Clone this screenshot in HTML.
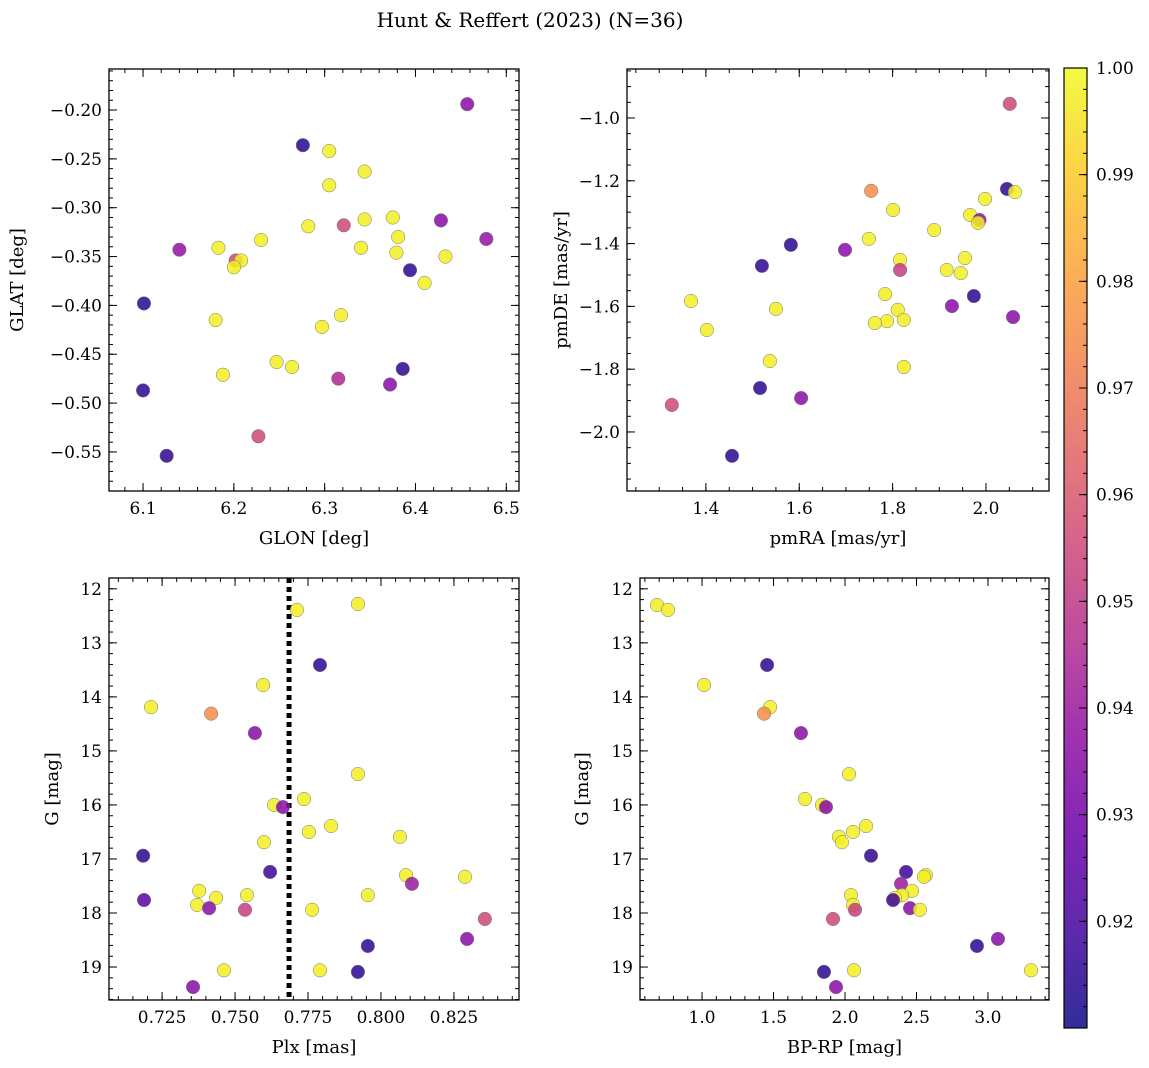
<!DOCTYPE html>
<html><head><meta charset="utf-8"><style>
body{margin:0;background:#fff;}
svg{display:block;font-family:"DejaVu Serif","Liberation Serif",serif;}
</style></head>
<body>
<svg id="fig" width="1149" height="1068" viewBox="0 0 1149 1068" xmlns="http://www.w3.org/2000/svg">
<defs><linearGradient id="cbgrad" x1="0" y1="1" x2="0" y2="0">
<stop offset="0" stop-color="#0d0887"/><stop offset="0.1" stop-color="#41049d"/><stop offset="0.2" stop-color="#6a00a8"/><stop offset="0.3" stop-color="#8f0da4"/><stop offset="0.4" stop-color="#b12a90"/><stop offset="0.5" stop-color="#cc4778"/><stop offset="0.6" stop-color="#e16462"/><stop offset="0.7" stop-color="#f2844b"/><stop offset="0.8" stop-color="#fca636"/><stop offset="0.9" stop-color="#fcce25"/><stop offset="1" stop-color="#f0f921"/></linearGradient></defs>
<text x="530" y="27" font-size="20" text-anchor="middle">Hunt &amp; Reffert (2023) (N=36)</text>
</svg>
<script>
// ---- data ----
const prob = [0.935,0.915,0.998,0.998,0.998,0.998,0.998,0.998,0.955,0.935,0.998,0.938,0.998,0.938,0.998,0.955,0.998,0.998,0.998,0.998,0.998,0.915,0.998,0.915,0.998,0.998,0.998,0.998,0.998,0.998,0.915,0.945,0.935,0.915,0.955,0.915];
const glon = [6.457,6.276,6.305,6.344,6.305,6.375,6.282,6.344,6.321,6.428,6.381,6.478,6.230,6.140,6.183,6.202,6.208,6.200,6.340,6.379,6.433,6.394,6.410,6.101,6.318,6.180,6.297,6.247,6.264,6.188,6.386,6.315,6.372,6.100,6.227,6.126];
const glat = [-0.194,-0.236,-0.242,-0.263,-0.277,-0.310,-0.319,-0.312,-0.318,-0.313,-0.330,-0.332,-0.333,-0.343,-0.341,-0.354,-0.354,-0.361,-0.341,-0.346,-0.350,-0.364,-0.377,-0.398,-0.410,-0.415,-0.422,-0.458,-0.463,-0.471,-0.465,-0.475,-0.481,-0.487,-0.534,-0.554];
const probPM = [0.955,0.915,0.998,0.975,0.998,0.998,0.998,0.935,0.998,0.998,0.998,0.915,0.935,0.998,0.998,0.915,0.998,0.998,0.952,0.915,0.998,0.998,0.935,0.998,0.998,0.935,0.998,0.998,0.998,0.998,0.998,0.998,0.915,0.935,0.955,0.915];
const pmra = [2.051,2.045,2.062,1.754,1.998,1.801,1.966,1.986,1.983,1.889,1.749,1.582,1.698,1.816,1.955,1.520,1.916,1.946,1.816,1.974,1.784,1.368,1.927,1.811,1.550,2.058,1.824,1.788,1.762,1.402,1.537,1.824,1.516,1.604,1.327,1.456];
const pmde = [-0.955,-1.226,-1.236,-1.232,-1.258,-1.293,-1.309,-1.325,-1.334,-1.357,-1.385,-1.404,-1.420,-1.452,-1.446,-1.471,-1.484,-1.494,-1.484,-1.567,-1.561,-1.583,-1.599,-1.611,-1.608,-1.634,-1.643,-1.647,-1.653,-1.675,-1.774,-1.793,-1.860,-1.892,-1.914,-2.076];
const probCMD = [0.998,0.998,0.915,0.998,0.998,0.975,0.935,0.998,0.998,0.998,0.935,0.998,0.998,0.998,0.998,0.915,0.918,0.998,0.998,0.940,0.998,0.998,0.998,0.998,0.925,0.998,0.935,0.952,0.998,0.955,0.935,0.915,0.998,0.998,0.915,0.935];
const plx = [0.7712,0.7921,0.7791,0.7596,0.7212,0.7418,0.7568,0.7921,0.7736,0.7634,0.7664,0.7829,0.7753,0.8065,0.7599,0.7185,0.7620,0.8086,0.8288,0.8106,0.7377,0.7541,0.7955,0.7435,0.7188,0.7370,0.7411,0.7534,0.7764,0.8356,0.8295,0.7955,0.7462,0.7791,0.7921,0.7356];
const gmag = [12.39,12.28,13.41,13.78,14.19,14.31,14.67,15.43,15.89,16.00,16.04,16.39,16.50,16.59,16.69,16.94,17.24,17.30,17.33,17.46,17.59,17.67,17.67,17.72,17.76,17.85,17.91,17.94,17.94,18.11,18.48,18.61,19.06,19.06,19.09,19.37];
const probBR = [0.998,0.998,0.915,0.998,0.998,0.975,0.935,0.998,0.998,0.998,0.935,0.998,0.998,0.998,0.998,0.915,0.918,0.998,0.998,0.940,0.998,0.998,0.998,0.998,0.918,0.998,0.935,0.952,0.998,0.955,0.935,0.915,0.998,0.998,0.915,0.935];
const gmagBR = [12.30,12.39,13.41,13.78,14.19,14.31,14.67,15.43,15.89,16.00,16.04,16.39,16.50,16.59,16.69,16.94,17.24,17.30,17.33,17.46,17.59,17.67,17.67,17.72,17.76,17.85,17.91,17.94,17.94,18.11,18.48,18.61,19.06,19.06,19.09,19.37];
const bprp = [0.685,0.762,1.455,1.014,1.476,1.434,1.692,2.028,1.720,1.839,1.867,2.147,2.056,1.958,1.979,2.182,2.427,2.566,2.552,2.392,2.469,2.042,2.399,2.350,2.336,2.056,2.455,2.070,2.524,1.916,3.070,2.923,3.301,2.063,1.853,1.937];
const plxLine = 0.7685;
const glonTicks = [6.1,6.2,6.3,6.4,6.5];
const glatTicks = [-0.20,-0.25,-0.30,-0.35,-0.40,-0.45,-0.50,-0.55];
const pmraTicks = [1.4,1.6,1.8,2.0];
const pmdeTicks = [-1.0,-1.2,-1.4,-1.6,-1.8,-2.0];
const plxTicks = [0.725,0.750,0.775,0.800,0.825];
const gTicks = [12,13,14,15,16,17,18,19];
const bprpTicks = [1.0,1.5,2.0,2.5,3.0];
const cbTicks = [0.92,0.93,0.94,0.95,0.96,0.97,0.98,0.99,1.00];
const vmin = 0.9100, vmax = 1.0;

const NS = "http://www.w3.org/2000/svg";
const svg = document.getElementById('fig');
function el(tag, attrs, parent){const e=document.createElementNS(NS,tag);for(const k in attrs)e.setAttribute(k,attrs[k]);(parent||svg).appendChild(e);return e;}
const stops=[[0,[13,8,135]],[0.1,[65,4,157]],[0.2,[106,0,168]],[0.3,[143,13,164]],[0.4,[177,42,144]],[0.5,[204,71,120]],[0.6,[225,100,98]],[0.7,[242,132,75]],[0.8,[252,166,54]],[0.9,[252,206,37]],[1,[240,249,33]]];
function cmap(v){let t=Math.max(0,Math.min(1,(v-vmin)/(vmax-vmin)));for(let i=1;i<stops.length;i++){if(t<=stops[i][0]){const a=stops[i-1],b=stops[i];const f=(t-a[0])/(b[0]-a[0]);const c=a[1].map((x,j)=>Math.round(x+(b[1][j]-x)*f));return `rgb(${c})`;}}return 'rgb(240,249,33)';}

function panel(o){
  const {name,x0,x1,y0,y1,xmin,xmax,ymin,ymax,xt,yt,xminor,yminor,xfmt,yfmt,xlabel,ylabel,xs,ys,cs}=o;
  const g=el('g',{});
  
  
  const sx=v=>x0+(v-xmin)/(xmax-xmin)*(x1-x0);
  const sy=v=>y1-(v-ymin)/(ymax-ymin)*(y1-y0);
  // minor ticks
  const tk=el('g',{stroke:'#000','stroke-width':1},g);
  
  
  let s=Math.ceil(Math.min(xmin,xmax)/xminor-1e-6);
  for(let v=s*xminor;v<=Math.max(xmin,xmax)+1e-9;v+=xminor){const X=sx(v);el('line',{x1:X,x2:X,y1:y1,y2:y1-4},tk);el('line',{x1:X,x2:X,y1:y0,y2:y0+4},tk);}
  s=Math.ceil(Math.min(ymin,ymax)/yminor-1e-6);
  for(let v=s*yminor;v<=Math.max(ymin,ymax)+1e-9;v+=yminor){const Y=sy(v);el('line',{x1:x0,x2:x0+4,y1:Y,y2:Y},tk);el('line',{x1:x1,x2:x1-4,y1:Y,y2:Y},tk);}
  xt.forEach(v=>{const X=sx(v);el('line',{x1:X,x2:X,y1:y1,y2:y1-8},tk);el('line',{x1:X,x2:X,y1:y0,y2:y0+8},tk);
    const t=el('text',{x:X,y:y1+23,'font-size':17,'text-anchor':'middle'},g);t.textContent=xfmt(v);
    
    });
  yt.forEach(v=>{const Y=sy(v);el('line',{x1:x0,x2:x0+8,y1:Y,y2:Y},tk);el('line',{x1:x1,x2:x1-8,y1:Y,y2:Y},tk);
    const t=el('text',{x:x0-7,y:Y+6,'font-size':17,'text-anchor':'end'},g);t.textContent=yfmt(v);
    
    });
  if(o.vline!==undefined){const l=el('line',{x1:sx(o.vline),x2:sx(o.vline),y1:y0,y2:y1,stroke:'#000','stroke-width':5,'stroke-dasharray':'5,4'},g);
    
    }
  xs.forEach((v,i)=>{const c=el('circle',{cx:sx(v),cy:sy(ys[i]),r:6.8,fill:cmap(cs[i]),'fill-opacity':0.85,stroke:'#777','stroke-width':0.5},g);
    
    });
  const fr=el('rect',{x:x0,y:y0,width:x1-x0,height:y1-y0,fill:'none',stroke:'#000','stroke-width':1.3},g);
  
  
  const xl=el('text',{x:(x0+x1)/2,y:y1+53,'font-size':18,'text-anchor':'middle'},g);xl.textContent=xlabel;
  
  
  const yx=o.ylx;
  const yl=el('text',{x:yx,y:(y0+y1)/2,'font-size':18,'text-anchor':'middle',transform:`rotate(-90 ${yx} ${(y0+y1)/2})`},g);yl.textContent=ylabel;
  
  
}
const f2=v=>v.toFixed(2), f1=v=>v.toFixed(1), f3=v=>v.toFixed(3), f0=v=>String(v);
const fm=v=>(v<0?'\u2212':'')+Math.abs(v).toFixed(2);
const fm1=v=>(v<0?'\u2212':'')+Math.abs(v).toFixed(1);
panel({name:'glon-glat-panel',x0:109,x1:519,y0:69,y1:491,xmin:6.0625,xmax:6.514,ymin:-0.590,ymax:-0.158,xt:glonTicks,yt:glatTicks,xminor:0.02,yminor:0.01,xfmt:f1,yfmt:fm,xlabel:'GLON [deg]',ylabel:'GLAT [deg]',xs:glon,ys:glat,cs:prob,ylx:23});
panel({name:'pm-panel',x0:627,x1:1049,y0:69,y1:491,xmin:1.231,xmax:2.135,ymin:-2.188,ymax:-0.844,xt:pmraTicks,yt:pmdeTicks,xminor:0.05,yminor:0.05,xfmt:f1,yfmt:fm1,xlabel:'pmRA [mas/yr]',ylabel:'pmDE [mas/yr]',xs:pmra,ys:pmde,cs:probPM,ylx:567});
panel({name:'plx-g-panel',x0:109,x1:519,y0:578,y1:1000,xmin:0.7068,xmax:0.8473,ymin:19.61,ymax:11.80,xt:plxTicks,yt:gTicks,xminor:0.005,yminor:0.2,xfmt:f3,yfmt:f0,xlabel:'Plx [mas]',ylabel:'G [mag]',xs:plx,ys:gmag,cs:probCMD,ylx:58,vline:plxLine});
panel({name:'cmd-panel',x0:640,x1:1049,y0:578,y1:1000,xmin:0.566,xmax:3.427,ymin:19.61,ymax:11.80,xt:bprpTicks,yt:gTicks,xminor:0.1,yminor:0.2,xfmt:f1,yfmt:f0,xlabel:'BP-RP [mag]',ylabel:'G [mag]',xs:bprp,ys:gmagBR,cs:probBR,ylx:588});
// colorbar
const cb=el('g',{});


const cy0=68,cy1=1028,cx0=1064,cx1=1087;
el('rect',{x:cx0,y:cy0,width:cx1-cx0,height:cy1-cy0,fill:'url(#cbgrad)','fill-opacity':0.85},cb);
el('rect',{x:cx0,y:cy0,width:cx1-cx0,height:cy1-cy0,fill:'none',stroke:'#000','stroke-width':1.2},cb);
const cyv=v=>cy1-(v-vmin)/(vmax-vmin)*(cy1-cy0);
for(let v=0.912;v<=1.0001;v+=0.002){el('line',{x1:cx1,x2:cx1-4,y1:cyv(v),y2:cyv(v),stroke:'#000'},cb);}
cbTicks.forEach(v=>{const Y=cyv(v);el('line',{x1:cx1,x2:cx1-8,y1:Y,y2:Y,stroke:'#000'},cb);
  const t=el('text',{x:cx1+9,y:Y+6,'font-size':17},cb);t.textContent=v.toFixed(2);
  
  });
</script>
</body></html>
